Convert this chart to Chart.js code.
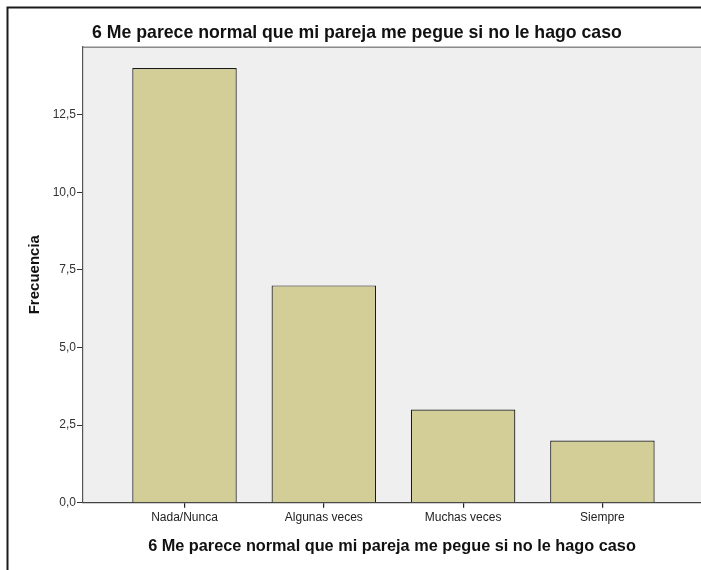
<!DOCTYPE html>
<html>
<head>
<meta charset="utf-8">
<script src="https://cdn.jsdelivr.net/npm/chart.js@4.4.1/dist/chart.umd.min.js"></script>
<style>
html,body{margin:0;padding:0;background:#fff;}
#wrap{width:701px;height:570px;position:relative;}
</style>
</head>
<body>
<div id="wrap"><canvas id="c" width="701" height="570"></canvas></div>
<script>
const chartTitle = '6 Me parece normal que mi pareja me pegue si no le hago caso';
const categories = ['Nada/Nunca', 'Algunas veces', 'Muchas veces', 'Siempre'];
const frequencies = [14, 7, 3, 2];
const yTickValues = [0, 2.5, 5, 7.5, 10, 12.5];
const xAxisTitle = '6 Me parece normal que mi pareja me pegue si no le hago caso';
const yAxisTitle = 'Frecuencia';

const FONT = '"Liberation Sans", Arial, sans-serif';

const framePlugin = {
  id: 'frame',
  beforeDraw(chart) {
    const {ctx, chartArea: a} = chart;
    ctx.save();
    ctx.fillStyle = '#fff';
    ctx.fillRect(0, 0, chart.width, chart.height);
    // outer border (cropped on right and bottom)
    ctx.strokeStyle = '#1a1a1a';
    ctx.lineWidth = 2;
    ctx.strokeRect(7.5, 7.5, chart.width + 20, chart.height + 20);
    // plot background
    ctx.fillStyle = '#efefef';
    ctx.fillRect(a.left, a.top, a.right - a.left + 5, a.bottom - a.top);
    ctx.strokeStyle = '#8c8c8c';
    ctx.lineWidth = 1.5;
    ctx.beginPath();
    ctx.moveTo(a.left, a.top + 0.5);
    ctx.lineTo(chart.width, a.top + 0.5);
    ctx.stroke();
    // chart title
    ctx.fillStyle = '#111';
    ctx.font = 'bold 17.7px ' + FONT;
    ctx.textAlign = 'left';
    ctx.textBaseline = 'alphabetic';
    ctx.fillText(chartTitle, 92, 37.7);
    ctx.restore();
  }
};

new Chart(document.getElementById('c'), {
  type: 'bar',
  data: {
    datasets: [{
      label: 'Frecuencia',
      data: categories.map((c, i) => ({x: i + 1, y: frequencies[i]})),
      backgroundColor: '#d3ce97',
      borderColor: '#1a1a1a',
      borderWidth: 1.2,
      categoryPercentage: 1,
      barPercentage: 0.75
    }]
  },
  options: {
    responsive: false,
    devicePixelRatio: 1,
    animation: false,
    layout: {padding: {top: 46.7, right: 0, left: 0, bottom: 0}},
    plugins: {legend: {display: false}, tooltip: {enabled: false}, title: {display: false}},
    scales: {
      x: {
        type: 'linear',
        offset: false,
        min: 0.2713,
        max: 4.7078,
        afterFit(scale) { scale.height = 570 - 502.7; },
        afterBuildTicks(scale) { scale.ticks = categories.map((c, i) => ({value: i + 1})); },
        ticks: {
          autoSkip: false,
          maxRotation: 0,
          padding: 3,
          color: '#222',
          font: {family: FONT, size: 12},
          callback: (v) => categories[Math.round(v) - 1]
        },
        grid: {offset: false, drawOnChartArea: false, drawTicks: true, tickLength: 5, color: '#222', lineWidth: 1.2},
        border: {display: true, color: '#444', width: 1.2},
        title: {display: true, text: xAxisTitle, color: '#111', font: {family: FONT, size: 16.3, weight: 'bold'}, padding: {top: 0, bottom: 13.6}}
      },
      y: {
        min: 0,
        max: 14.69,
        afterFit(scale) { scale.width = 83; },
        afterBuildTicks(scale) { scale.ticks = yTickValues.map(v => ({value: v})); },
        ticks: {
          padding: 1,
          color: '#333',
          font: {family: FONT, size: 12},
          callback: (v) => v.toFixed(1).replace('.', ',')
        },
        grid: {drawOnChartArea: false, drawTicks: true, tickLength: 6, color: '#333', lineWidth: 1},
        border: {display: true, color: '#555', width: 1.2},
        title: {display: true, text: yAxisTitle, color: '#111', font: {family: FONT, size: 15, weight: 'bold'}, padding: {top: 25.5, bottom: 0}}
      }
    }
  },
  plugins: [framePlugin]
});
</script>
</body>
</html>
